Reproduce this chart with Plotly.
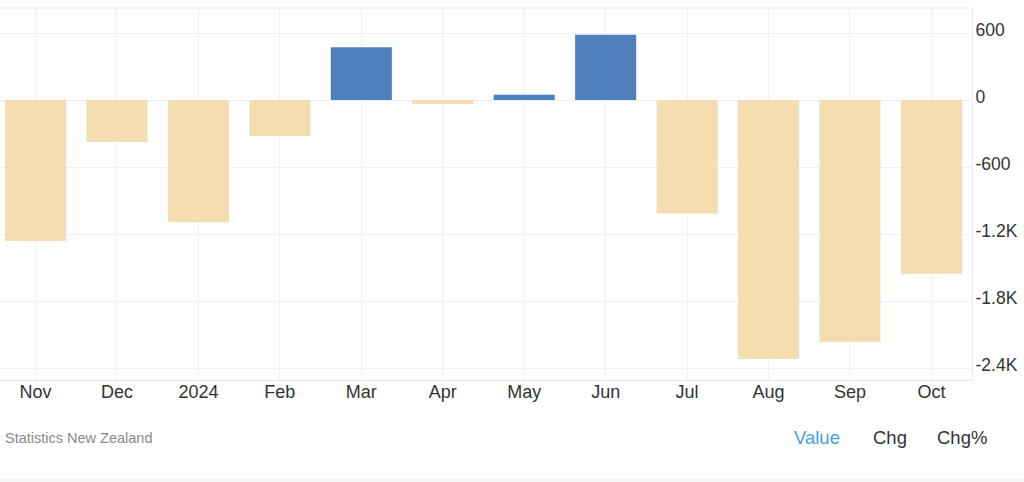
import plotly.graph_objects as go

months = ["Nov", "Dec", "2024", "Feb", "Mar", "Apr", "May", "Jun", "Jul", "Aug", "Sep", "Oct"]
values = [-1262, -376, -1095, -322, 472, -36, 47, 585, -1015, -2319, -2164, -1555]

y_tick_vals = [600, 0, -600, -1200, -1800, -2400]
y_tick_text = ["600", "0", "-600", "-1.2K", "-1.8K", "-2.4K"]

POS = "#4f7fbd"
NEG = "#f3ddb1"
colors = [POS if v >= 0 else NEG for v in values]

fig = go.Figure()
fig.add_trace(go.Bar(
    x=list(range(len(months))), y=values,
    marker=dict(color=colors, line=dict(width=0)),
    width=0.75,
    hoverinfo="skip",
))

fig.update_layout(
    width=1024, height=482,
    margin=dict(l=0, r=52, t=8, b=102),
    paper_bgcolor="white", plot_bgcolor="white",
    showlegend=False,
    font=dict(family="Liberation Sans, Arial, sans-serif", color="#333333", size=18),
    bargap=0.25,
)
fig.update_xaxes(
    range=[-0.436, 11.498],
    tickvals=list(range(len(months))), ticktext=months,
    showgrid=True, gridcolor="#f0f0f0", gridwidth=1,
    showline=True, linecolor="#e6e6e6", linewidth=1,
    ticks="", ticklabelstandoff=-5,
    tickfont=dict(size=18, color="#333333"),
    zeroline=False, mirror=False,
)
fig.update_yaxes(
    side="right",
    range=[-2507, 824],
    tickvals=y_tick_vals, ticktext=y_tick_text,
    showgrid=True, gridcolor="#f0f0f0", gridwidth=1,
    zeroline=True, zerolinecolor="#f0f0f0", zerolinewidth=1,
    showline=True, linecolor="#ececec", linewidth=1,
    ticks="", ticklabelstandoff=-1, ticklabelshift=-3,
    tickfont=dict(size=17.5, color="#333333"),
)

# top border line
fig.add_shape(type="line", xref="paper", yref="paper", x0=0, x1=1, y0=1, y1=1,
              line=dict(color="#ececec", width=1))
# bottom page line
fig.add_shape(type="line", xref="paper", yref="paper", x0=0, x1=1.06, y0=-0.269, y1=-0.269,
              line=dict(color="#e8e8e8", width=1))

W = 972.0
fig.add_annotation(text="Statistics New Zealand", xref="paper", yref="paper",
                   x=3/W, y=-0.155, xanchor="left", yanchor="middle", showarrow=False,
                   font=dict(size=14.5, color="#8a8a8a"))
fig.add_annotation(text="Value", xref="paper", yref="paper",
                   x=792/W, y=-0.155, xanchor="left", yanchor="middle", showarrow=False,
                   font=dict(size=18.5, color="#4a9fe0"))
fig.add_annotation(text="Chg", xref="paper", yref="paper",
                   x=871/W, y=-0.155, xanchor="left", yanchor="middle", showarrow=False,
                   font=dict(size=18.5, color="#333333"))
fig.add_annotation(text="Chg%", xref="paper", yref="paper",
                   x=935/W, y=-0.155, xanchor="left", yanchor="middle", showarrow=False,
                   font=dict(size=18.5, color="#333333"))

fig.write_html("out.html")
